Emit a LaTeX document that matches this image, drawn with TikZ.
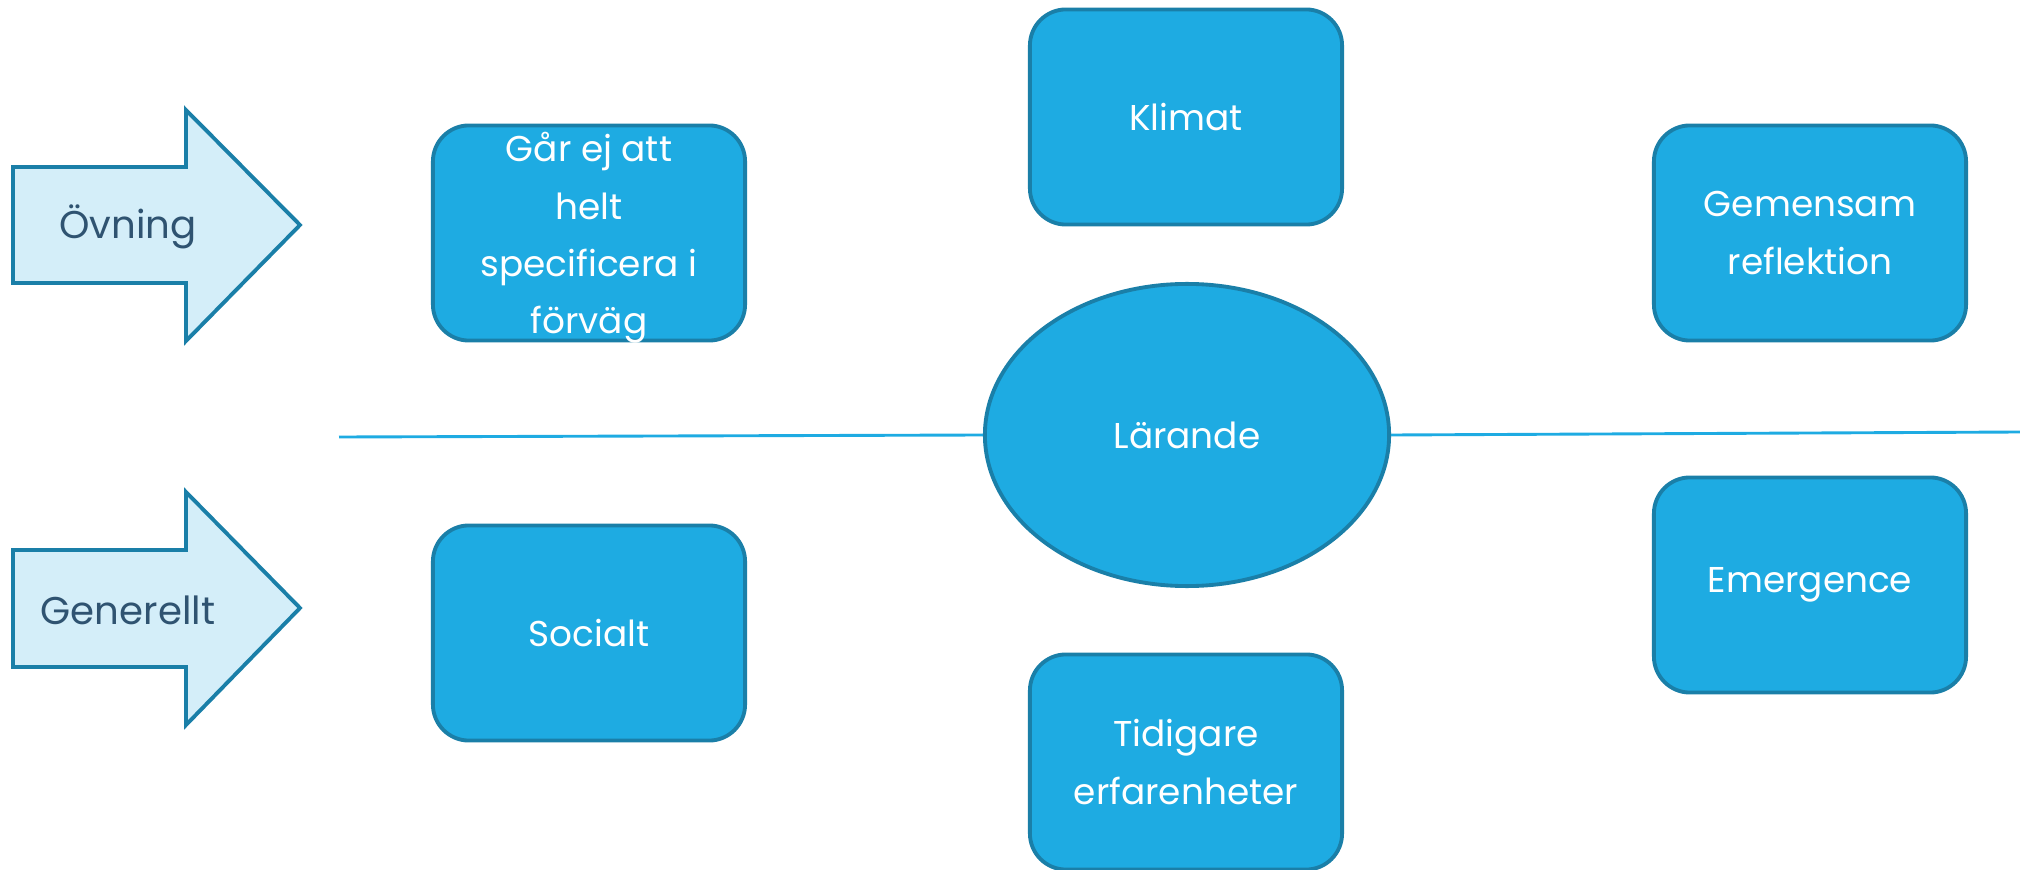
\documentclass[tikz,border=0pt]{standalone}
\usepackage{fontspec}
\setmainfont{Poppins}
\usetikzlibrary{shapes.geometric}

\definecolor{boxblue}{HTML}{1EABE2}
\definecolor{boxline}{HTML}{1A7FA8}
\definecolor{arrowfill}{HTML}{D4EEF9}
\definecolor{arrowtext}{HTML}{2F5371}
\definecolor{axisline}{HTML}{1EABE2}

\begin{document}
\begin{tikzpicture}[x=0.01cm, y=-0.01cm]
    \useasboundingbox (0, 0) rectangle (2020, 870);
    \begin{scope}[box/.style={draw=boxline, fill=boxblue, rounded corners=0.36cm, minimum width=3.12cm, minimum height=2.15cm, line width=0.2ex},
                  boxtext/.style={text=white, align=center, font=\fontsize{10.2}{16.3}\selectfont},
                  arrowshape/.style={draw=boxline, fill=arrowfill, line width=0.2ex},
                  arrowtext/.style={text=arrowtext, font=\fontsize{11}{16}\selectfont}]
        % left arrows
        \draw[arrowshape] (13, 167) -- (186, 167) -- (186, 110) -- (300, 225) -- (186, 341) -- (186, 283) -- (13, 283) -- cycle;
        \draw[arrowshape] (13, 550) -- (186, 550) -- (186, 492) -- (300, 608) -- (186, 725) -- (186, 667) -- (13, 667) -- cycle;
        \node[arrowtext] (ovn) at (128, 227) {Övning};
        \node[arrowtext] (gen) at (128, 610) {Generellt};
        % centre
        \node[draw=boxline, fill=boxblue, ellipse, minimum width=4.04cm, minimum height=3.02cm, line width=0.2ex, boxtext] (lar) at (1187, 435) {Lärande};
        \coordinate (lstart) at (339, 437);
        \coordinate (rend) at (2020, 432);
        \begin{scope}[color=axisline, line width=0.15ex]
        \draw (lstart) -- (lar.west);
        \draw (lar.east) -- (rend);
        \end{scope}
        % boxes
        \node[box] (gar) at (589, 233) {};
        \node[boxtext] (gartxt) at (589, 238) {Går ej att\\helt\\specificera i\\förväg};
        \node[box, boxtext] (soc) at (589, 633) {Socialt};
        \node[box, boxtext] (kli) at (1186, 117) {Klimat};
        \node[box, boxtext] (tid) at (1186, 762) {Tidigare\\erfarenheter};
        \node[box, boxtext] (gem) at (1810, 233) {Gemensam\\reflektion};
        \node[box, boxtext] (eme) at (1810, 585) {Emergence};
    \end{scope}
\end{tikzpicture}
\end{document}
